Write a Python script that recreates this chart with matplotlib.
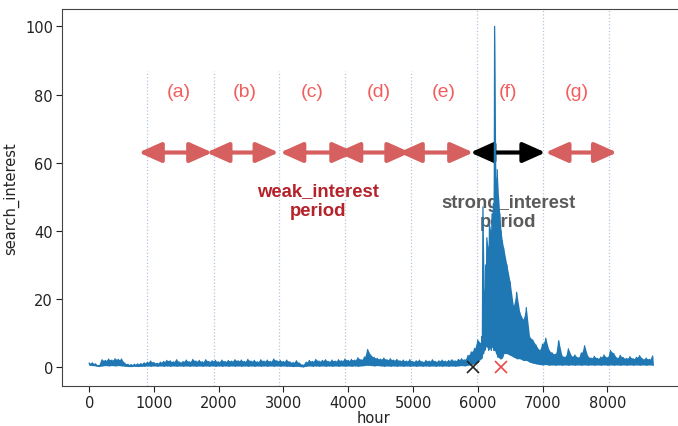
import numpy as np
import matplotlib
matplotlib.use('Agg')
import matplotlib.pyplot as plt

# hourly search interest, read as upper / lower envelope every 50 hours
hours = np.arange(0, 8701, 50)
hi = [1.2, 1.3, 1.0, 0.5, 2.2, 2.0, 2.4, 2.1, 2.5, 2.3, 2.4, 1.2, 0.9, 0.8, 0.9, 1.0, 1.1, 1.3, 1.5, 1.8,
      1.4, 1.2, 1.5, 1.7, 2.0, 1.9, 1.6, 2.2, 1.5, 1.7, 2.1, 1.6, 2.3, 1.8, 2.0, 1.6, 2.2, 1.7, 1.9, 2.0,
      1.6, 2.1, 1.7, 2.0, 1.8, 2.2, 1.9, 2.1, 1.7, 2.3, 1.8, 2.0, 1.6, 2.2, 1.8, 2.1, 1.7, 2.4, 1.9, 2.0,
      1.7, 2.1, 1.6, 1.4, 1.9, 1.2, 0.7, 1.5, 2.0, 1.7, 2.3, 1.8, 2.0, 2.2, 1.7, 2.1, 1.8, 2.2, 1.9, 2.4,
      2.0, 2.3, 2.1, 2.8, 2.2, 3.0, 5.2, 3.5, 2.9, 2.6, 2.4, 2.7, 2.2, 2.5, 2.1, 2.3, 1.9, 2.1, 1.8, 2.2,
      1.7, 1.9, 2.1, 1.6, 2.0, 1.8, 2.2, 1.7, 1.9, 2.1, 1.8, 2.0, 2.2, 1.9, 2.3, 2.5, 2.2, 3.5, 4.5, 5.5,
      8.0, 7.0, 48.0, 30.0, 45.0, 100.0, 58.0, 52.0, 36.0, 30.0, 25.0, 18.0, 22.0, 16.0, 14.0, 17.5, 9.0, 8.0, 6.5, 5.0,
      6.8, 8.5, 5.0, 4.2, 3.8, 7.8, 3.4, 3.0, 5.4, 3.2, 3.6, 2.8, 4.2, 6.3, 3.2, 2.7, 3.2, 2.6, 3.0, 3.6,
      2.8, 4.9, 4.0, 2.7, 3.5, 2.8, 2.6, 3.1, 2.5, 2.9, 3.4, 2.4, 2.7, 2.3, 3.3]
lo = [0.6, 0.5, 0.4, 0.2, 0.4, 0.5, 0.4, 0.5, 0.4, 0.5, 0.4, 0.3, 0.2, 0.2, 0.3, 0.2, 0.3, 0.3, 0.4, 0.3,
      0.4, 0.3, 0.4, 0.3, 0.4, 0.3, 0.4, 0.3, 0.4, 0.3, 0.4, 0.3, 0.4, 0.3, 0.4, 0.3, 0.4, 0.3, 0.4, 0.3,
      0.4, 0.3, 0.4, 0.3, 0.4, 0.3, 0.4, 0.3, 0.4, 0.3, 0.4, 0.3, 0.4, 0.3, 0.4, 0.3, 0.4, 0.3, 0.4, 0.3,
      0.4, 0.3, 0.3, 0.2, 0.3, 0.2, 0.1, 0.3, 0.4, 0.3, 0.4, 0.3, 0.4, 0.3, 0.4, 0.3, 0.4, 0.3, 0.4, 0.3,
      0.4, 0.3, 0.4, 0.3, 0.4, 0.5, 0.6, 0.5, 0.4, 0.5, 0.4, 0.3, 0.4, 0.3, 0.4, 0.3, 0.4, 0.3, 0.4, 0.3,
      0.4, 0.3, 0.4, 0.3, 0.4, 0.3, 0.4, 0.3, 0.4, 0.3, 0.4, 0.3, 0.4, 0.3, 0.4, 0.5, 0.4, 0.6, 0.8, 1.0,
      1.5, 2.5, 4.0, 6.0, 8.0, 9.0, 5.0, 3.0, 3.5, 4.0, 3.5, 3.0, 2.5, 2.5, 2.0, 2.0, 1.5, 1.2, 1.0, 0.8,
      0.7, 0.8, 0.6, 0.7, 0.6, 0.7, 0.6, 0.7, 0.6, 0.7, 0.6, 0.7, 0.6, 0.7, 0.6, 0.7, 0.6, 0.7, 0.6, 0.7,
      0.6, 0.7, 0.6, 0.7, 0.6, 0.7, 0.6, 0.7, 0.6, 0.7, 0.6, 0.7, 0.6, 0.7, 0.6]

# finer reading around the peak, every 20 hours
peak_hours = np.arange(6060, 6401, 20)
peak_hi = [9, 47, 22, 30, 38, 35, 42, 40, 45, 48, 100, 55, 58, 50, 45, 40, 37, 35]
peak_lo = [3, 4, 5, 6, 6, 5, 6, 5, 6, 5, 5, 4, 3, 3, 2.5, 2.5, 3, 4]

# period boundaries (hours)
bounds_short = [890, 1920, 2925, 3955, 4970]
bounds_full = [5990, 7005, 8025]

# period labels and arrows
period_labels = ['(a)', '(b)', '(c)', '(d)', '(e)', '(f)', '(g)']
label_x = [1390, 2395, 3445, 4465, 5470, 6470, 7535]
arrow_start = [765, 1810, 2950, 3830, 4780, 5885, 7045]
arrow_end = [1900, 2925, 4110, 4960, 5930, 7045, 8150]
arrow_colors = ['#d65f5f'] * 5 + ['black', '#d65f5f']

# merge coarse and fine readings
hi = np.array(hi, dtype=float)
lo = np.array(lo, dtype=float)
keep = (hours < 6060) | (hours > 6400)
t = np.concatenate([hours[keep], peak_hours])
order = np.argsort(t)
t = t[order]
top = np.concatenate([hi[keep], peak_hi])[order]
bot = np.concatenate([lo[keep], peak_lo])[order]

# interleave upper and lower envelope for the spiky hourly look
x = np.empty(len(t) * 2)
y = np.empty(len(t) * 2)
x[0::2] = t
x[1::2] = t + 10
y[0::2] = top
y[1::2] = bot

fig = plt.figure(figsize=(6.78, 4.27), dpi=100)
ax = fig.add_axes([62 / 678, 40 / 427, 623 / 678, 377 / 427])

ax.fill_between(t, bot, top, color='#1f77b4', lw=0, zorder=3)
ax.plot(x, y, color='#1f77b4', lw=0.9, zorder=3)

for b in bounds_short:
    ax.axvline(b, ymin=0, ymax=(87 + 5.5) / 110.6, color='#b3c7dc', ls=':', lw=0.9, zorder=1)
for b in bounds_full:
    ax.axvline(b, color='#b3c7dc', ls=':', lw=0.9, zorder=1)

for s, e, c in zip(arrow_start, arrow_end, arrow_colors):
    ax.annotate('', xy=(e, 63), xytext=(s, 63),
                arrowprops=dict(arrowstyle='<|-|>,head_length=0.85,head_width=0.38',
                                mutation_scale=16, color=c, lw=3,
                                shrinkA=0, shrinkB=0), zorder=2)

for lab, lx in zip(period_labels, label_x):
    ax.text(lx, 81, lab, color='#f25e5e', fontsize=14, ha='center', va='center',
            family='Liberation Sans', zorder=2)

ax.text(3540, 49, 'weak_interest\nperiod', color='#b5222a', fontsize=13.3,
        fontweight='bold', ha='center', va='center', family='Liberation Sans',
        linespacing=1.2, zorder=2)
ax.text(6470, 45.5, 'strong_interest\nperiod', color='#5a5a5a', fontsize=13.3,
        fontweight='bold', ha='center', va='center', family='Liberation Sans',
        linespacing=1.2, zorder=2)

ax.plot([5930], [0], marker='x', color='#222222', ms=9, mew=1.2, zorder=6)
ax.plot([6365], [0], marker='x', color='#e84a4a', ms=9, mew=1.2, zorder=6)

ax.set_xlim(-420, 9200)
ax.set_ylim(-5.5, 105.1)
ax.set_xticks(range(0, 8001, 1000))
ax.set_yticks(range(0, 101, 20))
ax.tick_params(labelsize=10.5, colors='#222222', length=4, pad=2.5)
for sp in ax.spines.values():
    sp.set_color('#444444')
ax.set_xlabel('hour', fontsize=10.5, color='#222222', labelpad=0)
ax.set_ylabel('search_interest', fontsize=10.5, color='#222222')

fig.savefig('out.png', dpi=100)
